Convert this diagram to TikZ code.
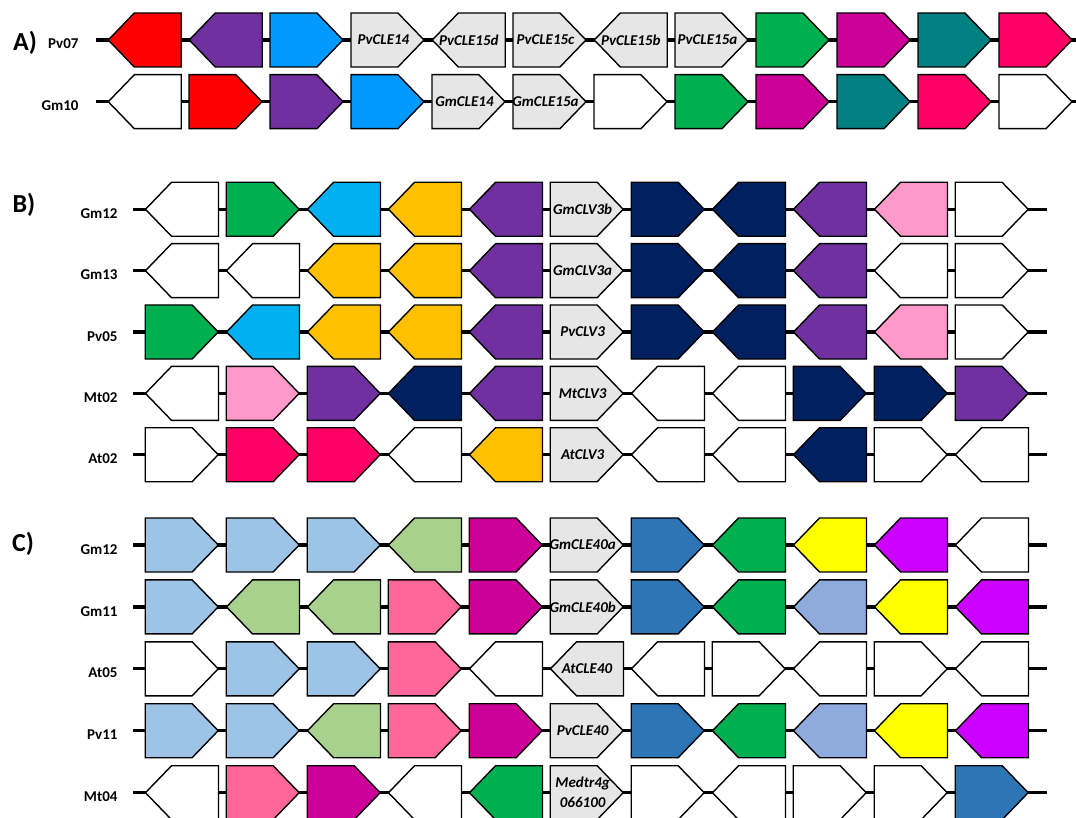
\documentclass[tikz,border=0pt]{standalone}
\usepackage{fontspec}
\setmainfont{Carlito}
\usepackage{xcolor}
\usetikzlibrary{shapes.symbols, positioning}

\definecolor{cRed}{HTML}{FF0000}
\definecolor{cPurple}{HTML}{7030A0}
\definecolor{cBlue}{HTML}{0099FF}
\definecolor{cGrey}{HTML}{E7E6E6}
\definecolor{cGreen}{HTML}{00B050}
\definecolor{cMagenta}{HTML}{CC0099}
\definecolor{cTeal}{HTML}{008080}
\definecolor{cRose}{HTML}{FF0066}
\definecolor{cCyan}{HTML}{00B0F0}
\definecolor{cGold}{HTML}{FFC000}
\definecolor{cNavy}{HTML}{002060}
\definecolor{cPink}{HTML}{FF99CC}
\definecolor{cSky}{HTML}{9DC3E6}
\definecolor{cLime}{HTML}{A9D18E}
\definecolor{cSalmon}{HTML}{FF6699}
\definecolor{cSteel}{HTML}{2E75B6}
\definecolor{cPeri}{HTML}{8FAADC}
\definecolor{cYellow}{HTML}{FFFF00}
\definecolor{cViolet}{HTML}{CC00FF}

\begin{document}
\begin{tikzpicture}[
    x=1pt, y=-1pt,
    gene/.style={signal, draw=black, line width=1.4pt, signal pointer angle=92, minimum width=73pt, minimum height=54pt, inner sep=0pt, anchor=west},
    fwd/.style={gene, signal to=east},
    rev/.style={gene, signal to=west},
    gname/.style={inner sep=0pt, align=center, font=\fontsize{15}{20}\selectfont\bfseries\itshape},
    fwd-name/.style={gname, xshift=9pt},
    rev-name/.style={gname, xshift=-13pt},
    spine/.style={line width=3.2pt},
    rowlab/.style={anchor=east, font=\fontsize{15}{17}\selectfont\bfseries},
    panel/.style={font=\fontsize{26}{30}\selectfont\bfseries}
]
\useasboundingbox (0,0) rectangle (1076,818);

% Panel A
\node[panel] (lA) at (25, 43) {A)};

\node[rowlab] (pv07) at (82, 44) {Pv07};
\coordinate (pv07-s) at (96, 40);
\coordinate (pv07-e) at (1076, 40);
\draw[spine] (pv07-s) -- (pv07-e);
\foreach \d/\c/\t [count=\i from 0] in {rev/cRed/{}, rev/cPurple/{}, fwd/cBlue/{}, fwd/cGrey/PvCLE14, rev/cGrey/PvCLE15d, fwd/cGrey/PvCLE15c, rev/cGrey/PvCLE15b, fwd/cGrey/PvCLE15a, fwd/cGreen/{}, fwd/cMagenta/{}, fwd/cTeal/{}, fwd/cRose/{}}
  \node[\d, fill=\c, label={[\d-name]center:\t}] (pv07-\i) at (107.3+81*\i, 40) {};

\node[rowlab] (gm10) at (82, 106) {Gm10};
\coordinate (gm10-s) at (96, 101.7);
\coordinate (gm10-e) at (1076, 101.7);
\draw[spine] (gm10-s) -- (gm10-e);
\foreach \d/\c/\t [count=\i from 0] in {rev/white/{}, fwd/cRed/{}, fwd/cPurple/{}, fwd/cBlue/{}, fwd/cGrey/GmCLE14, fwd/cGrey/GmCLE15a, fwd/white/{}, fwd/cGreen/{}, fwd/cMagenta/{}, fwd/cTeal/{}, fwd/cRose/{}, fwd/white/{}}
  \node[\d, fill=\c, label={[\d-name]center:\t}] (gm10-\i) at (107.3+81*\i, 101.7) {};

% Panel B
\node[panel] (lB) at (24, 205) {B)};

\node[rowlab] (b-gm12) at (121, 213.5) {Gm12};
\coordinate (b-gm12-s) at (133, 209.3);
\coordinate (b-gm12-e) at (1047, 209.3);
\draw[spine] (b-gm12-s) -- (b-gm12-e);
\foreach \d/\c/\t [count=\i from 0] in {rev/white/{}, fwd/cGreen/{}, rev/cCyan/{}, rev/cGold/{}, rev/cPurple/{}, fwd/cGrey/GmCLV3b, fwd/cNavy/{}, rev/cNavy/{}, rev/cPurple/{}, rev/cPink/{}, fwd/white/{}}
  \node[\d, fill=\c, label={[\d-name]center:\t}] (b-gm12-\i) at (144.5+81*\i, 209.3) {};

\node[rowlab] (b-gm13) at (121, 275) {Gm13};
\coordinate (b-gm13-s) at (133, 270.7);
\coordinate (b-gm13-e) at (1047, 270.7);
\draw[spine] (b-gm13-s) -- (b-gm13-e);
\foreach \d/\c/\t [count=\i from 0] in {rev/white/{}, rev/white/{}, rev/cGold/{}, rev/cGold/{}, rev/cPurple/{}, fwd/cGrey/GmCLV3a, fwd/cNavy/{}, rev/cNavy/{}, rev/cPurple/{}, rev/white/{}, fwd/white/{}}
  \node[\d, fill=\c, label={[\d-name]center:\t}] (b-gm13-\i) at (144.5+81*\i, 270.7) {};

\node[rowlab] (b-pv05) at (121, 336.3) {Pv05};
\coordinate (b-pv05-s) at (133, 332);
\coordinate (b-pv05-e) at (1047, 332);
\draw[spine] (b-pv05-s) -- (b-pv05-e);
\foreach \d/\c/\t [count=\i from 0] in {fwd/cGreen/{}, rev/cCyan/{}, rev/cGold/{}, rev/cGold/{}, rev/cPurple/{}, fwd/cGrey/PvCLV3, fwd/cNavy/{}, rev/cNavy/{}, rev/cPurple/{}, rev/cPink/{}, fwd/white/{}}
  \node[\d, fill=\c, label={[\d-name]center:\t}] (b-pv05-\i) at (144.5+81*\i, 332) {};

\node[rowlab] (b-mt02) at (121, 397.7) {Mt02};
\coordinate (b-mt02-s) at (133, 393.4);
\coordinate (b-mt02-e) at (1047, 393.4);
\draw[spine] (b-mt02-s) -- (b-mt02-e);
\foreach \d/\c/\t [count=\i from 0] in {rev/white/{}, fwd/cPink/{}, fwd/cPurple/{}, rev/cNavy/{}, rev/cPurple/{}, fwd/cGrey/MtCLV3, rev/white/{}, rev/white/{}, fwd/cNavy/{}, fwd/cNavy/{}, fwd/cPurple/{}}
  \node[\d, fill=\c, label={[\d-name]center:\t}] (b-mt02-\i) at (144.5+81*\i, 393.4) {};

\node[rowlab] (b-at02) at (121, 459) {At02};
\coordinate (b-at02-s) at (133, 454.7);
\coordinate (b-at02-e) at (1047, 454.7);
\draw[spine] (b-at02-s) -- (b-at02-e);
\foreach \d/\c/\t [count=\i from 0] in {fwd/white/{}, fwd/cRose/{}, fwd/cRose/{}, rev/white/{}, rev/cGold/{}, fwd/cGrey/AtCLV3, rev/white/{}, rev/white/{}, rev/cNavy/{}, fwd/white/{}, rev/white/{}}
  \node[\d, fill=\c, label={[\d-name]center:\t}] (b-at02-\i) at (144.5+81*\i, 454.7) {};

% Panel C
\node[panel] (lC) at (23, 543.5) {C)};

\node[rowlab] (c-gm12) at (121, 549.3) {Gm12};
\coordinate (c-gm12-s) at (133, 545);
\coordinate (c-gm12-e) at (1047, 545);
\draw[spine] (c-gm12-s) -- (c-gm12-e);
\foreach \d/\c/\t [count=\i from 0] in {fwd/cSky/{}, fwd/cSky/{}, fwd/cSky/{}, rev/cLime/{}, fwd/cMagenta/{}, fwd/cGrey/GmCLE40a, fwd/cSteel/{}, rev/cGreen/{}, rev/cYellow/{}, rev/cViolet/{}, rev/white/{}}
  \node[\d, fill=\c, label={[\d-name]center:\t}] (c-gm12-\i) at (144.5+81*\i, 545) {};

\node[rowlab] (c-gm11) at (121, 611.2) {Gm11};
\coordinate (c-gm11-s) at (133, 606.9);
\coordinate (c-gm11-e) at (1047, 606.9);
\draw[spine] (c-gm11-s) -- (c-gm11-e);
\foreach \d/\c/\t [count=\i from 0] in {fwd/cSky/{}, rev/cLime/{}, rev/cLime/{}, fwd/cSalmon/{}, fwd/cMagenta/{}, fwd/cGrey/GmCLE40b, fwd/cSteel/{}, rev/cGreen/{}, rev/cPeri/{}, rev/cYellow/{}, rev/cViolet/{}}
  \node[\d, fill=\c, label={[\d-name]center:\t}] (c-gm11-\i) at (144.5+81*\i, 606.9) {};

\node[rowlab] (c-at05) at (121, 673.1) {At05};
\coordinate (c-at05-s) at (133, 668.8);
\coordinate (c-at05-e) at (1047, 668.8);
\draw[spine] (c-at05-s) -- (c-at05-e);
\foreach \d/\c/\t [count=\i from 0] in {fwd/white/{}, fwd/cSky/{}, fwd/cSky/{}, fwd/cSalmon/{}, rev/white/{}, rev/cGrey/AtCLE40, rev/white/{}, fwd/white/{}, rev/white/{}, fwd/white/{}, rev/white/{}}
  \node[\d, fill=\c, label={[\d-name]center:\t}] (c-at05-\i) at (144.5+81*\i, 668.8) {};

\node[rowlab] (c-pv11) at (121, 735) {Pv11};
\coordinate (c-pv11-s) at (133, 730.7);
\coordinate (c-pv11-e) at (1047, 730.7);
\draw[spine] (c-pv11-s) -- (c-pv11-e);
\foreach \d/\c/\t [count=\i from 0] in {fwd/cSky/{}, fwd/cSky/{}, rev/cLime/{}, fwd/cSalmon/{}, fwd/cMagenta/{}, fwd/cGrey/PvCLE40, fwd/cSteel/{}, rev/cGreen/{}, rev/cPeri/{}, rev/cYellow/{}, rev/cViolet/{}}
  \node[\d, fill=\c, label={[\d-name]center:\t}] (c-pv11-\i) at (144.5+81*\i, 730.7) {};

\node[rowlab] (c-mt04) at (121, 797) {Mt04};
\coordinate (c-mt04-s) at (133, 792.7);
\coordinate (c-mt04-e) at (1047, 792.7);
\draw[spine] (c-mt04-s) -- (c-mt04-e);
\foreach \d/\c/\t [count=\i from 0] in {rev/white/{}, fwd/cSalmon/{}, fwd/cMagenta/{}, rev/white/{}, rev/cGreen/{}, fwd/cGrey/{Medtr4g\\066100}, fwd/white/{}, rev/white/{}, fwd/white/{}, fwd/white/{}, fwd/cSteel/{}}
  \node[\d, fill=\c, label={[\d-name]center:\t}] (c-mt04-\i) at (144.5+81*\i, 792.7) {};

\end{tikzpicture}
\end{document}
